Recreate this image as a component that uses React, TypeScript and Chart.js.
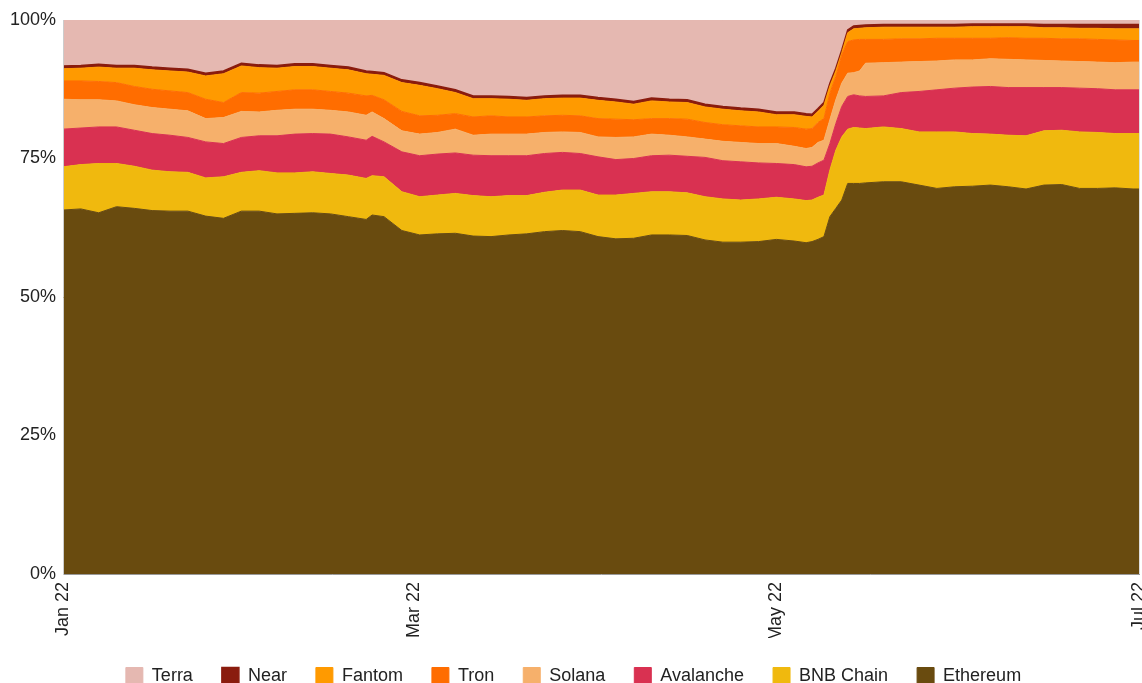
import { useEffect, useRef } from 'react';
import { Chart, registerables } from 'chart.js';

Chart.register(...registerables);

// Day offsets from 1 Jan 2022
const days = [0, 3, 6, 9, 12, 15, 18, 21, 24, 27, 30, 33, 36, 39, 42, 45, 48, 51, 52, 54, 57, 60, 63, 66, 69, 72, 75, 78, 81, 84, 87, 90, 93, 96, 99, 102, 105, 108, 111, 114, 117, 120, 123, 125, 126, 127, 128, 129, 130, 131, 132, 133, 134, 135, 138, 141, 144, 147, 150, 153, 156, 159, 162, 165, 168, 171, 174, 177, 180, 181];

const ethereum = [65.7, 65.9, 65.2, 66.3, 66.0, 65.6, 65.5, 65.5, 64.6, 64.2, 65.5, 65.5, 65.0, 65.1, 65.2, 65.0, 64.5, 64.0, 64.8, 64.5, 62.0, 61.2, 61.4, 61.5, 61.0, 60.9, 61.2, 61.4, 61.8, 62.0, 61.8, 60.9, 60.5, 60.6, 61.2, 61.2, 61.1, 60.3, 59.9, 59.9, 60.0, 60.4, 60.1, 59.8, 60.0, 60.4, 60.9, 64.5, 66.0, 67.5, 70.5, 70.5, 70.5, 70.6, 70.8, 70.8, 70.2, 69.6, 69.9, 70.0, 70.2, 69.9, 69.5, 70.2, 70.3, 69.6, 69.6, 69.7, 69.5, 69.5];
const bnbChain = [7.8, 8.0, 8.9, 7.8, 7.6, 7.3, 7.1, 7.0, 6.9, 7.5, 7.0, 7.3, 7.4, 7.3, 7.4, 7.3, 7.5, 7.4, 7.1, 7.2, 7.0, 6.9, 7.0, 7.2, 7.3, 7.2, 7.1, 6.9, 7.1, 7.3, 7.5, 7.5, 7.9, 8.1, 7.8, 7.8, 7.7, 7.8, 7.8, 7.6, 7.7, 7.6, 7.6, 7.6, 7.5, 7.6, 7.5, 8.4, 10.5, 11.4, 9.8, 10.1, 10.0, 9.8, 9.9, 9.6, 9.6, 10.2, 9.9, 9.5, 9.2, 9.3, 9.6, 9.8, 9.8, 10.2, 10.1, 9.8, 10.0, 10.0];
const avalanche = [6.8, 6.6, 6.6, 6.6, 6.5, 6.6, 6.6, 6.3, 6.5, 6.0, 6.3, 6.3, 6.7, 7.0, 6.9, 7.1, 6.9, 6.9, 7.1, 6.3, 7.2, 7.4, 7.4, 7.3, 7.3, 7.4, 7.2, 7.2, 7.0, 6.8, 6.6, 6.9, 6.4, 6.3, 6.5, 6.6, 6.6, 7.1, 6.9, 6.9, 6.5, 6.1, 6.2, 6.1, 6.1, 6.2, 6.3, 4.8, 4.8, 5.5, 5.9, 5.9, 5.8, 5.8, 5.6, 6.5, 7.3, 7.6, 7.9, 8.4, 8.6, 8.6, 8.7, 7.8, 7.7, 7.9, 7.9, 7.9, 7.9, 7.9];
const solana = [5.4, 5.1, 4.9, 4.7, 4.6, 4.7, 4.7, 4.8, 4.2, 4.7, 4.7, 4.3, 4.6, 4.5, 4.4, 4.3, 4.5, 4.5, 4.4, 4.2, 3.8, 3.9, 3.9, 4.3, 3.6, 3.9, 3.9, 3.9, 3.8, 3.7, 3.8, 3.6, 4.0, 3.9, 3.9, 3.6, 3.5, 3.3, 3.5, 3.5, 3.5, 3.6, 3.3, 3.3, 3.4, 3.7, 3.6, 4.3, 4.3, 4.2, 4.2, 4.0, 4.5, 6.0, 6.0, 5.5, 5.4, 5.2, 5.1, 4.9, 5.0, 5.1, 5.0, 4.9, 4.8, 4.8, 4.8, 4.9, 5.0, 5.0];
const tron = [3.3, 3.4, 3.3, 3.3, 3.3, 3.3, 3.3, 3.3, 3.5, 2.7, 3.4, 3.4, 3.4, 3.5, 3.5, 3.4, 3.4, 3.5, 3.0, 3.4, 3.5, 3.3, 3.1, 2.8, 3.3, 3.3, 3.1, 3.1, 3.0, 3.0, 3.0, 3.3, 3.3, 3.1, 2.8, 3.0, 3.2, 3.0, 3.0, 3.0, 3.0, 3.0, 3.4, 3.5, 3.4, 3.6, 3.9, 4.8, 4.2, 5.1, 5.7, 5.9, 5.7, 4.3, 4.2, 4.2, 4.1, 4.1, 3.9, 3.9, 3.7, 3.9, 3.9, 4.0, 4.0, 4.1, 4.1, 4.1, 3.9, 3.9];
const fantom = [2.2, 2.3, 2.6, 2.6, 3.3, 3.5, 3.6, 3.7, 4.2, 5.2, 4.8, 4.6, 4.2, 4.2, 4.2, 4.2, 4.2, 4.0, 3.8, 4.4, 5.2, 5.5, 4.8, 3.8, 3.3, 3.1, 3.2, 3.0, 3.1, 3.1, 3.2, 3.3, 3.1, 2.8, 3.2, 3.0, 3.0, 2.8, 2.8, 2.7, 2.7, 2.2, 2.3, 2.3, 2.1, 2.0, 2.4, 1.3, 1.0, 0.4, 1.6, 2.0, 2.0, 2.1, 2.2, 2.1, 2.1, 2.0, 2.0, 2.1, 2.1, 2.0, 2.1, 1.9, 2.0, 1.9, 2.0, 2.0, 2.1, 2.1];
const near = [0.5, 0.5, 0.5, 0.5, 0.5, 0.5, 0.5, 0.5, 0.5, 0.5, 0.5, 0.5, 0.5, 0.5, 0.5, 0.5, 0.5, 0.5, 0.5, 0.5, 0.5, 0.5, 0.5, 0.5, 0.5, 0.5, 0.5, 0.5, 0.5, 0.5, 0.5, 0.5, 0.5, 0.5, 0.5, 0.5, 0.5, 0.5, 0.5, 0.5, 0.5, 0.5, 0.5, 0.5, 0.5, 0.5, 0.5, 0.5, 0.5, 0.5, 0.5, 0.5, 0.5, 0.5, 0.5, 0.5, 0.5, 0.5, 0.5, 0.5, 0.5, 0.5, 0.5, 0.6, 0.6, 0.7, 0.7, 0.8, 0.8, 0.8];
const terra = [8.3, 8.2, 8.0, 8.2, 8.2, 8.5, 8.7, 8.9, 9.6, 9.2, 7.8, 8.1, 8.2, 7.9, 7.9, 8.2, 8.5, 9.2, 9.3, 9.5, 10.8, 11.3, 11.9, 12.6, 13.7, 13.7, 13.8, 14.0, 13.7, 13.6, 13.6, 14.0, 14.3, 14.7, 14.1, 14.3, 14.4, 15.2, 15.6, 15.9, 16.1, 16.6, 16.6, 16.9, 17.0, 16.0, 14.9, 11.4, 8.7, 5.4, 1.8, 1.1, 1.0, 0.9, 0.8, 0.8, 0.8, 0.8, 0.8, 0.7, 0.7, 0.7, 0.7, 0.8, 0.8, 0.8, 0.8, 0.8, 0.8, 0.8];

const seriesNames = ['Ethereum', 'BNB Chain', 'Avalanche', 'Solana', 'Tron', 'Fantom', 'Near', 'Terra'];
const seriesColors = ['#694b0f', '#f0b90e', '#d93151', '#f6b06b', '#ff6d00', '#ff9a00', '#8a1c0e', '#e5b8b1'];

const tickDays = [0, 59, 120, 181];
const tickLabels = ['Jan 22', 'Mar 22', 'May 22', 'Jul 22'];
const yTickValues = [0, 25, 50, 75, 100];

const FONT = "'Liberation Sans', Arial, Helvetica, sans-serif";

export default function App() {
  const ref = useRef<HTMLCanvasElement>(null);

  useEffect(() => {
    if (!ref.current) return;
    const series = [ethereum, bnbChain, avalanche, solana, tron, fantom, near, terra];
    const chart = new Chart(ref.current, {
      type: 'line',
      data: {
        datasets: series.map((vals, i) => ({
          label: seriesNames[i],
          data: vals.map((v, j) => ({ x: days[j], y: v })),
          backgroundColor: seriesColors[i],
          borderColor: seriesColors[i],
          borderWidth: seriesNames[i] === 'Near' ? 1.5 : 1,
          fill: i === 0 ? 'origin' : '-1',
          pointRadius: 0,
          pointHoverRadius: 0,
          tension: 0,
        })),
      },
      options: {
        responsive: false,
        animation: false,
        devicePixelRatio: 1,
        layout: { padding: { left: 8, right: 3, top: 20, bottom: 0 } },
        plugins: {
          legend: {
            position: 'bottom',
            reverse: true,
            labels: {
              boxWidth: 17,
              boxHeight: 17,
              padding: 29,
              color: '#222',
              font: { size: 18, family: FONT },
            },
          },
          tooltip: { enabled: false },
        },
        scales: {
          x: {
            type: 'linear',
            min: 0,
            max: 181,
            afterBuildTicks: (s: any) => {
              s.ticks = tickDays.map((v) => ({ value: v }));
            },
            afterFit: (s: any) => {
              s.height = 64;
              s.paddingLeft = 0;
              s.paddingRight = 0;
            },
            ticks: {
              autoSkip: false,
              minRotation: 90,
              maxRotation: 90,
              padding: 8,
              color: '#222',
              font: { size: 18, family: FONT },
              callback: (v: any) => {
                const k = tickDays.indexOf(Number(v));
                return k >= 0 ? tickLabels[k] : '';
              },
            },
            grid: { color: '#dddddd', drawTicks: false },
            border: { color: '#999999', z: 1 },
          },
          y: {
            stacked: true,
            min: 0,
            max: 100,
            afterBuildTicks: (s: any) => {
              s.ticks = yTickValues.map((v) => ({ value: v }));
            },
            afterFit: (s: any) => {
              s.width = 55;
            },
            ticks: {
              padding: 7,
              color: '#222',
              font: { size: 18, family: FONT },
              callback: (v: any) => v + '%',
            },
            grid: { color: '#dddddd', drawTicks: false },
            border: { color: '#cccccc', z: 1 },
          },
        },
      },
    });
    return () => chart.destroy();
  }, []);

  return (
    <div style={{ position: 'fixed', left: 0, top: 0, width: 1142, height: 683, overflow: 'hidden', background: '#fff' }}>
      <canvas ref={ref} width={1142} height={695} style={{ display: 'block' }} />
    </div>
  );
}
